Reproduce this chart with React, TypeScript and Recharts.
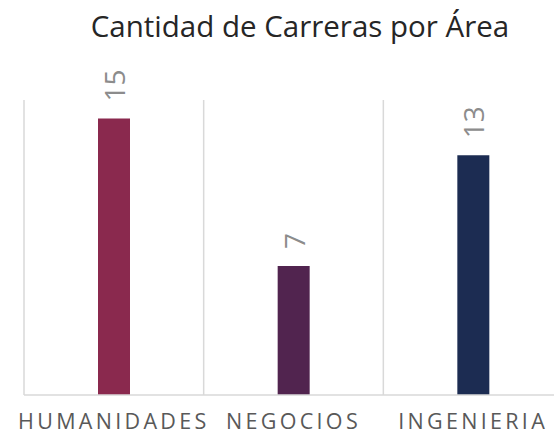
import { BarChart, Bar, XAxis, YAxis, CartesianGrid, Cell, LabelList } from 'recharts'

const areas = ['HUMANIDADES', 'NEGOCIOS', 'INGENIERIA']
const carreras = [15, 7, 13]
const barColors = ['#8A294E', '#51244F', '#1C2C52']

const data = areas.map((area, i) => ({ area, carreras: carreras[i] }))

const FONT = '"Open Sans", sans-serif'

// grid lines sit on the band edges, not the band centres
function bandEdges({ offset }: any) {
  return areas.map((_, i) => offset.left + (i * offset.width) / areas.length)
}

function AreaTick({ x, y, payload }: any) {
  return (
    <text
      x={x}
      y={y}
      dy={26}
      textAnchor="middle"
      fill="#595959"
      fontSize={21.5}
      fontFamily={FONT}
      letterSpacing={3.3}
    >
      {payload.value}
    </text>
  )
}

function ValueLabel({ x, y, width, value }: any) {
  const cx = x + width / 2
  const cy = y - 17
  return (
    <text
      x={cx}
      y={cy}
      transform={`rotate(-90 ${cx} ${cy})`}
      textAnchor="start"
      dominantBaseline="central"
      fill="#8C8C8C"
      fontSize={28}
      fontFamily={FONT}
    >
      {value}
    </text>
  )
}

export default function App() {
  return (
    <div style={{ position: 'absolute', left: 0, top: 0, width: 554, height: 434, overflow: 'hidden', background: '#fff' }}>
      <div
        style={{
          position: 'absolute', left: 0, width: 600, top: 5,
          textAlign: 'center', fontFamily: FONT, fontSize: 29.5, color: '#262626',
        }}
      >
        Cantidad de Carreras por Área
      </div>
      <BarChart
        width={580}
        height={434}
        data={data}
        margin={{ top: 100, right: 17, left: 24, bottom: 0 }}
      >
        <CartesianGrid
          horizontal={false}
          stroke="#D9D9D9"
          strokeWidth={1.5}
          verticalCoordinatesGenerator={bandEdges}
        />
        <XAxis
          dataKey="area"
          height={39}
          interval={0}
          axisLine={{ stroke: '#D9D9D9', strokeWidth: 1.5 }}
          tickLine={false}
          tick={<AreaTick />}
        />
        <YAxis hide domain={[0, 16]} />
        <Bar dataKey="carreras" barSize={32} isAnimationActive={false}>
          {data.map((d, i) => (
            <Cell key={d.area} fill={barColors[i]} />
          ))}
          <LabelList dataKey="carreras" content={<ValueLabel />} />
        </Bar>
      </BarChart>
    </div>
  )
}
